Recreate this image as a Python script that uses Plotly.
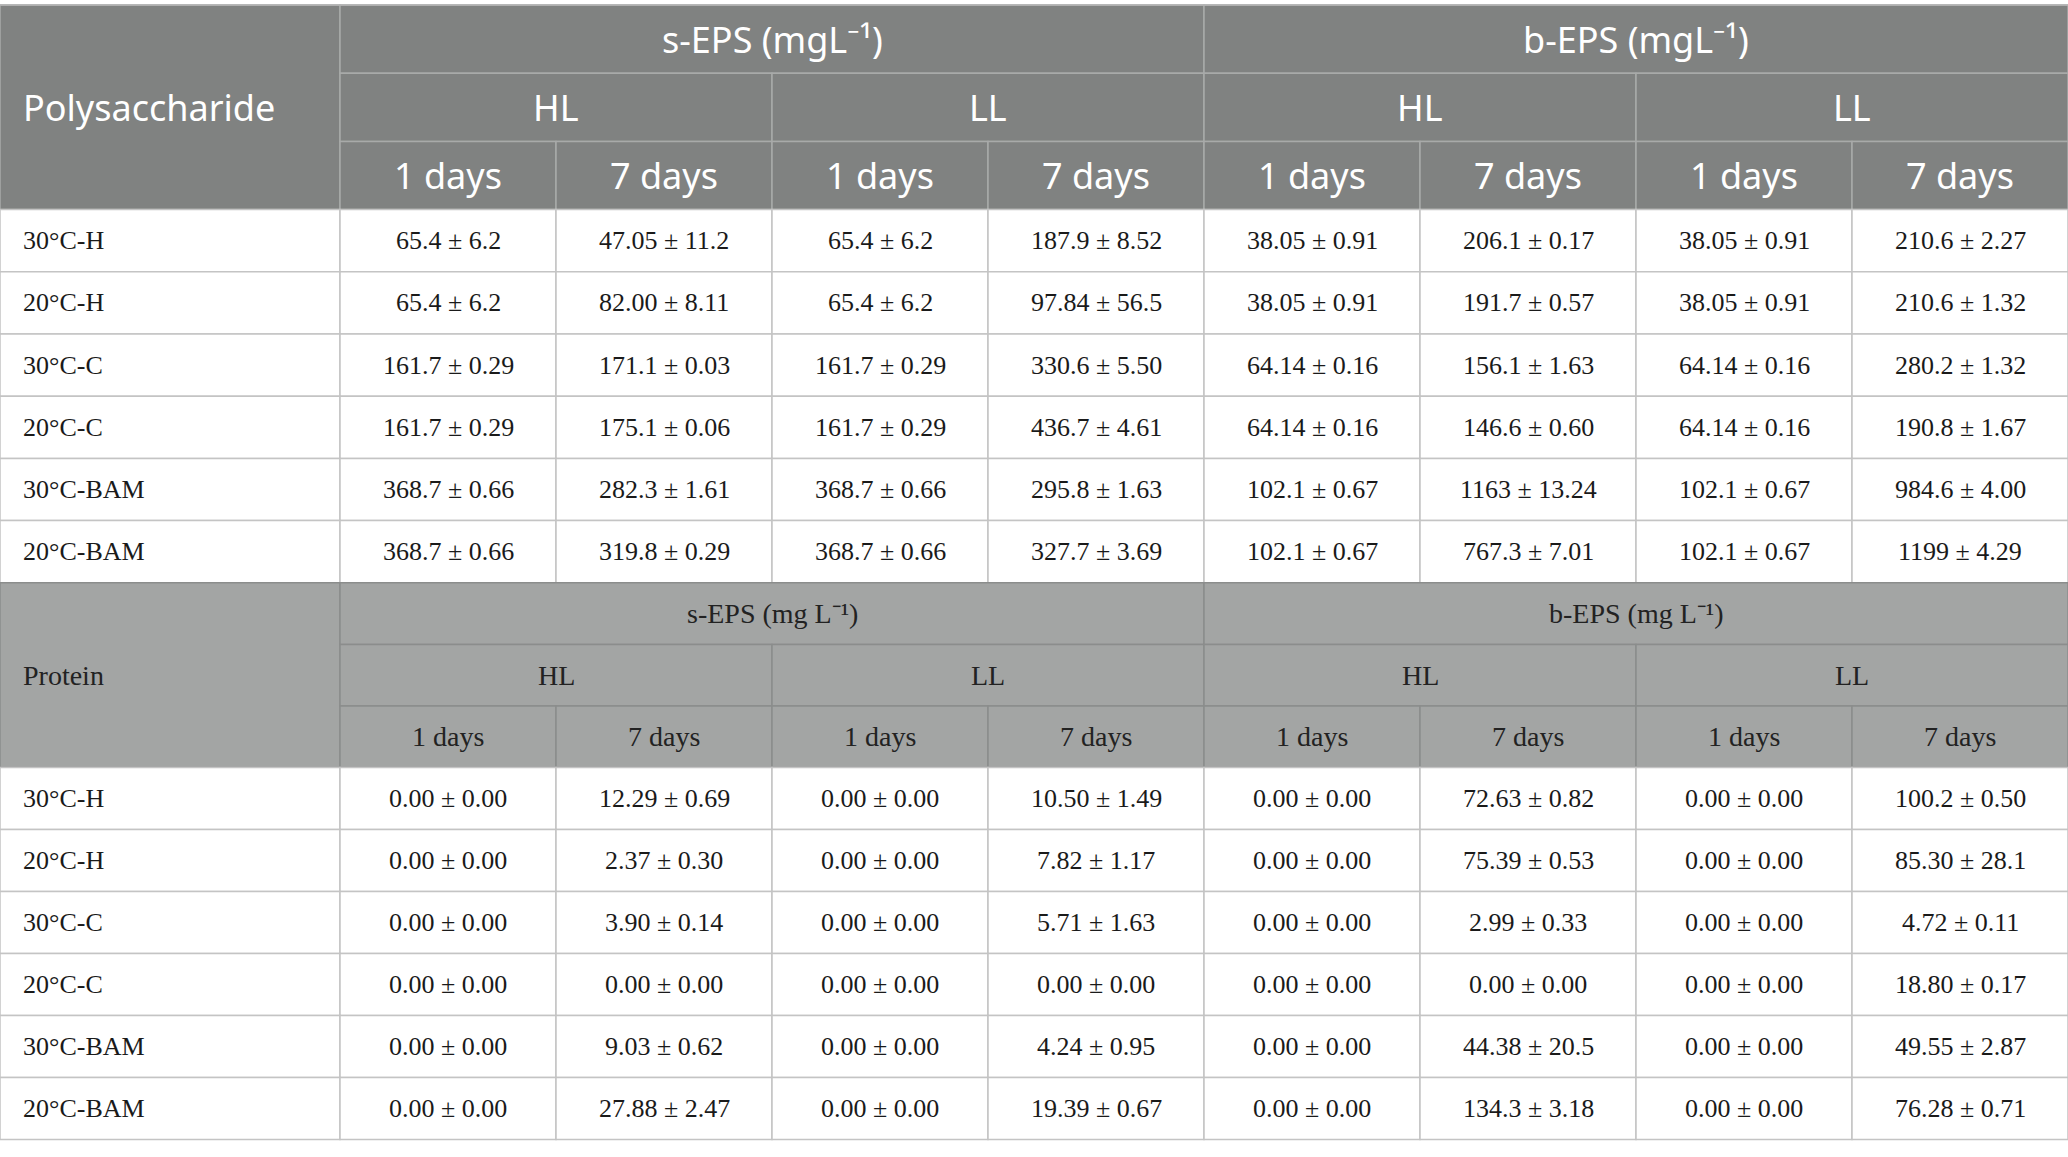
import numpy as np
import plotly.graph_objects as go

# ---- table content ----
row_labels = ["30°C-H", "20°C-H", "30°C-C", "20°C-C", "30°C-BAM", "20°C-BAM"]
groups = ["s-EPS", "b-EPS"]
lights = ["HL", "LL"]
days = ["1 days", "7 days"]

polysaccharide = [
    ["65.4 ± 6.2", "47.05 ± 11.2", "65.4 ± 6.2", "187.9 ± 8.52", "38.05 ± 0.91", "206.1 ± 0.17", "38.05 ± 0.91", "210.6 ± 2.27"],
    ["65.4 ± 6.2", "82.00 ± 8.11", "65.4 ± 6.2", "97.84 ± 56.5", "38.05 ± 0.91", "191.7 ± 0.57", "38.05 ± 0.91", "210.6 ± 1.32"],
    ["161.7 ± 0.29", "171.1 ± 0.03", "161.7 ± 0.29", "330.6 ± 5.50", "64.14 ± 0.16", "156.1 ± 1.63", "64.14 ± 0.16", "280.2 ± 1.32"],
    ["161.7 ± 0.29", "175.1 ± 0.06", "161.7 ± 0.29", "436.7 ± 4.61", "64.14 ± 0.16", "146.6 ± 0.60", "64.14 ± 0.16", "190.8 ± 1.67"],
    ["368.7 ± 0.66", "282.3 ± 1.61", "368.7 ± 0.66", "295.8 ± 1.63", "102.1 ± 0.67", "1163 ± 13.24", "102.1 ± 0.67", "984.6 ± 4.00"],
    ["368.7 ± 0.66", "319.8 ± 0.29", "368.7 ± 0.66", "327.7 ± 3.69", "102.1 ± 0.67", "767.3 ± 7.01", "102.1 ± 0.67", "1199 ± 4.29"],
]

protein = [
    ["0.00 ± 0.00", "12.29 ± 0.69", "0.00 ± 0.00", "10.50 ± 1.49", "0.00 ± 0.00", "72.63 ± 0.82", "0.00 ± 0.00", "100.2 ± 0.50"],
    ["0.00 ± 0.00", "2.37 ± 0.30", "0.00 ± 0.00", "7.82 ± 1.17", "0.00 ± 0.00", "75.39 ± 0.53", "0.00 ± 0.00", "85.30 ± 28.1"],
    ["0.00 ± 0.00", "3.90 ± 0.14", "0.00 ± 0.00", "5.71 ± 1.63", "0.00 ± 0.00", "2.99 ± 0.33", "0.00 ± 0.00", "4.72 ± 0.11"],
    ["0.00 ± 0.00", "0.00 ± 0.00", "0.00 ± 0.00", "0.00 ± 0.00", "0.00 ± 0.00", "0.00 ± 0.00", "0.00 ± 0.00", "18.80 ± 0.17"],
    ["0.00 ± 0.00", "9.03 ± 0.62", "0.00 ± 0.00", "4.24 ± 0.95", "0.00 ± 0.00", "44.38 ± 20.5", "0.00 ± 0.00", "49.55 ± 2.87"],
    ["0.00 ± 0.00", "27.88 ± 2.47", "0.00 ± 0.00", "19.39 ± 0.67", "0.00 ± 0.00", "134.3 ± 3.18", "0.00 ± 0.00", "76.28 ± 0.71"],
]

# ---- geometry / styles ----
W, H = 2068, 1157
col_w = [340] + [216] * 8
x_edges = np.concatenate([[0], np.cumsum(col_w)])

top = 5
sections = [
    dict(title="Polysaccharide", data=polysaccharide, unit="(mgL⁻¹)", head_h=68.2, row_h=62.2,
         bg="#808281", line="#a8aaa9",
         font=dict(family="Noto Sans", size=36, color="white")),
    dict(title="Protein", data=protein, unit="(mg L⁻¹)", head_h=61.6, row_h=62.0,
         bg="#a3a5a4", line="#8b8d8c",
         font=dict(family="Liberation Serif", size=28, color="#222222")),
]
cell_font = dict(family="Liberation Serif", size=26, color="#1a1a1a")
grid = "#c4c4c4"

shapes, annos = [], []


def box(x0, x1, y0, y1, fill, line, lw=1.5):
    shapes.append(dict(type="rect", xref="x", yref="y", x0=x0, x1=x1, y0=y0, y1=y1,
                       fillcolor=fill, line=dict(color=line, width=lw), layer="below"))


def label(x, y, text, font, anchor="center"):
    annos.append(dict(x=x, y=y, xref="x", yref="y", text=text, showarrow=False,
                      xanchor=anchor, yanchor="middle", font=font))


y = top
for sec in sections:
    hh, rh = sec["head_h"], sec["row_h"]
    y_head = y + np.arange(4) * hh
    # title spanning three header rows
    box(x_edges[0], x_edges[1], y_head[0], y_head[3], sec["bg"], sec["line"])
    label(x_edges[0] + 21, (y_head[0] + y_head[3]) / 2, sec["title"], sec["font"], "left")
    for gi, g in enumerate(groups):
        c0 = 1 + gi * 4
        box(x_edges[c0], x_edges[c0 + 4], y_head[0], y_head[1], sec["bg"], sec["line"])
        label((x_edges[c0] + x_edges[c0 + 4]) / 2, (y_head[0] + y_head[1]) / 2,
              g + " " + sec["unit"], sec["font"])
        for li, lt in enumerate(lights):
            c1 = c0 + li * 2
            box(x_edges[c1], x_edges[c1 + 2], y_head[1], y_head[2], sec["bg"], sec["line"])
            label((x_edges[c1] + x_edges[c1 + 2]) / 2, (y_head[1] + y_head[2]) / 2, lt, sec["font"])
            for di, d in enumerate(days):
                c2 = c1 + di
                box(x_edges[c2], x_edges[c2 + 1], y_head[2], y_head[3], sec["bg"], sec["line"])
                label((x_edges[c2] + x_edges[c2 + 1]) / 2, (y_head[2] + y_head[3]) / 2, d, sec["font"])
    y = y_head[3]
    # data rows
    for r, name in enumerate(row_labels):
        y0, y1 = y + r * rh, y + (r + 1) * rh
        box(x_edges[0], x_edges[1], y0, y1, "white", grid)
        label(x_edges[0] + 21, (y0 + y1) / 2, name, cell_font, "left")
        for c, val in enumerate(sec["data"][r]):
            box(x_edges[c + 1], x_edges[c + 2], y0, y1, "white", grid)
            label((x_edges[c + 1] + x_edges[c + 2]) / 2, (y0 + y1) / 2, val, cell_font)
    y = y + len(row_labels) * rh

# top rule above the first header
shapes.append(dict(type="line", xref="x", yref="y", x0=0, x1=W, y0=top, y1=top,
                   line=dict(color="#b5b5b5", width=1.5)))

fig = go.Figure()
fig.update_layout(
    width=W, height=H,
    margin=dict(l=0, r=0, t=0, b=0),
    paper_bgcolor="white", plot_bgcolor="white",
    xaxis=dict(range=[0, W], visible=False, fixedrange=True),
    yaxis=dict(range=[H, 0], visible=False, fixedrange=True),
    shapes=shapes, annotations=annos, showlegend=False,
)
fig.write_html("out.html", config={"displayModeBar": False},
               post_script="document.body.style.margin='0';document.body.style.overflow='hidden';")
